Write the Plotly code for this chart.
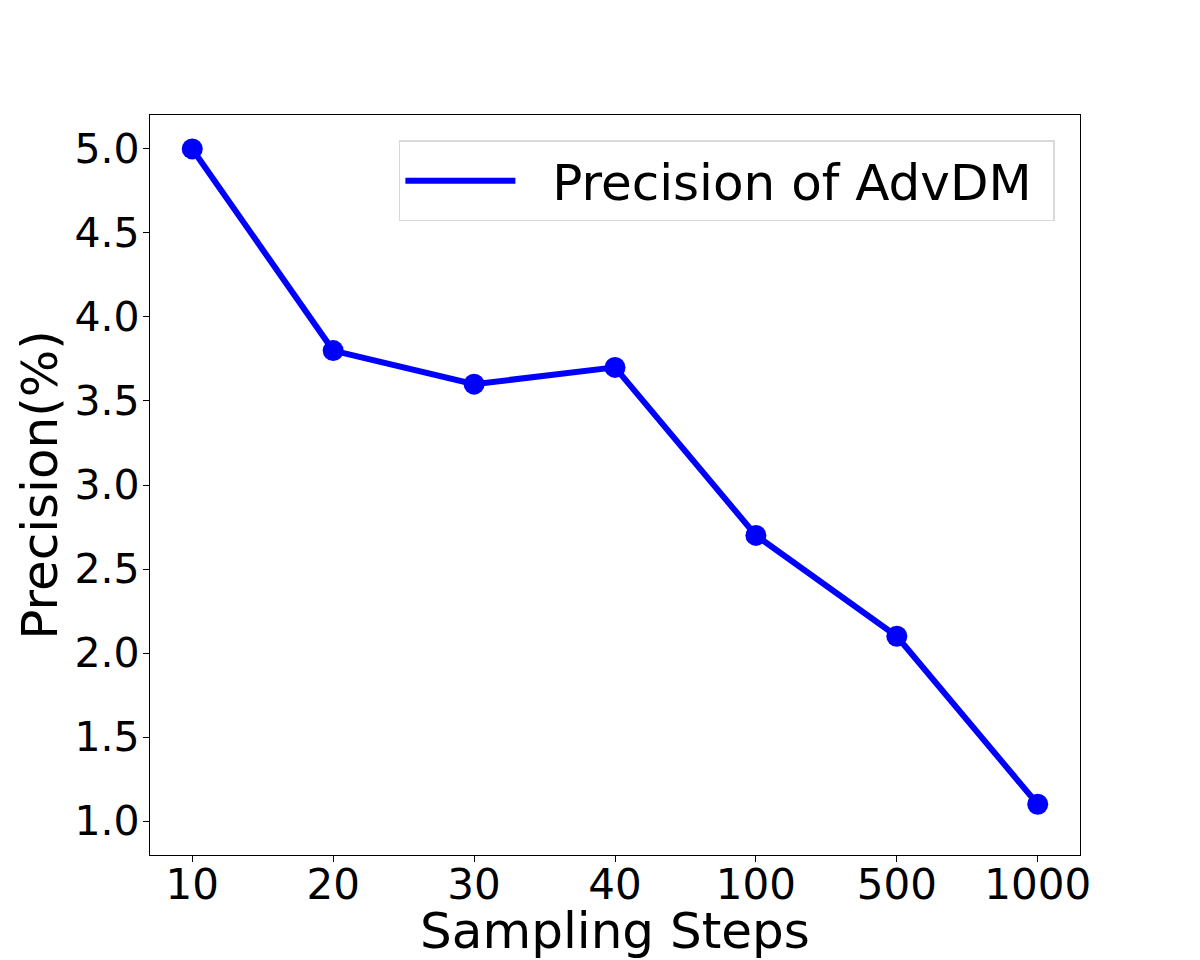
import plotly.graph_objects as go

# data
steps = ['10', '20', '30', '40', '100', '500', '1000']
precision = [5.0, 3.8, 3.6, 3.7, 2.7, 2.1, 1.1]
y_ticks = [1.0, 1.5, 2.0, 2.5, 3.0, 3.5, 4.0, 4.5, 5.0]

FONT = 'DejaVu Sans'
BLUE = '#0000ff'

fig = go.Figure()

# line (shown in legend)
fig.add_trace(go.Scatter(
    x=steps, y=precision,
    mode='lines',
    name='\u00a0\u00a0Precision of AdvDM\u00a0',
    line=dict(color=BLUE, width=6),
    legendgroup='p',
))
# markers (not in legend, matplotlib-style legend shows only the line)
fig.add_trace(go.Scatter(
    x=steps, y=precision,
    mode='markers',
    marker=dict(color=BLUE, size=21),
    showlegend=False,
    legendgroup='p',
))

# page body adds an 8px offset, margins compensate for it
fig.update_layout(
    width=1200, height=952,
    margin=dict(l=142, r=128, t=107, b=105, autoexpand=False),
    paper_bgcolor='white',
    plot_bgcolor='white',
    font=dict(family=FONT, color='black'),
    showlegend=True,
    legend=dict(
        x=0.973, y=0.966,
        xanchor='right', yanchor='top',
        bgcolor='white',
        bordercolor='#d9d9d9',
        borderwidth=1.5,
        font=dict(family=FONT, size=50, color='black'),
        itemwidth=110,
    ),
)

fig.update_xaxes(
    type='category',
    range=[-0.3, 6.3],
    automargin=False,
    showline=True, linecolor='black', linewidth=1.3, mirror=True,
    showgrid=False, zeroline=False,
    ticks='outside', ticklen=6, tickcolor='black', tickwidth=1.3,
    ticklabelstandoff=-14,
    tickfont=dict(family=FONT, size=42),
    title=dict(text='Sampling Steps', font=dict(family=FONT, size=50), standoff=13),
)
fig.update_yaxes(
    range=[0.798, 5.202],
    automargin=False,
    tickvals=y_ticks,
    ticktext=[f'{v:.1f}' for v in y_ticks],
    showline=True, linecolor='black', linewidth=1.3, mirror=True,
    showgrid=False, zeroline=False,
    ticks='outside', ticklen=6, tickcolor='black', tickwidth=1.3,
    ticklabelstandoff=-5,
    tickfont=dict(family=FONT, size=41),
    title=dict(text='Precision(%)', font=dict(family=FONT, size=50), standoff=0),
)

fig.write_html('out.html')
